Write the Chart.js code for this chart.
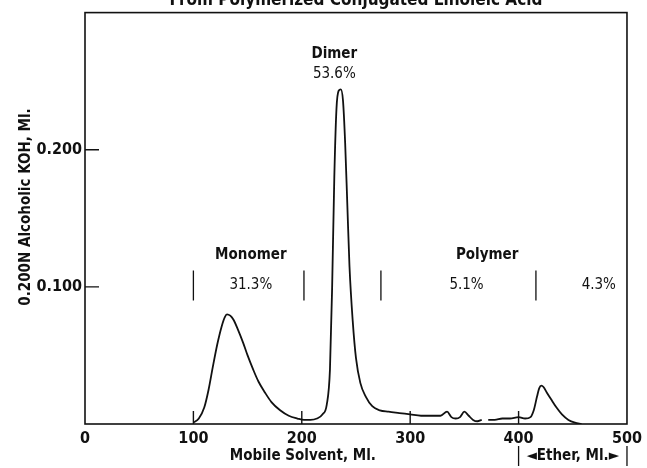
<!DOCTYPE html>
<html lang="en">
<head>
    <meta charset="UTF-8">
    <title>Chromatogram of Polymerized Acid</title>
    <style>
        body {
            margin: 0;
            background-color: #fff;
        }
        .chart-box {
            width: 647px;
            height: 468px;
        }
    </style>
    <script src="https://cdn.jsdelivr.net/npm/chart.js"></script>
</head>
<body>
    <div class="chart-box">
        <canvas id="elutionChart" width="647" height="468"></canvas>
    </div>
    <script>
        // elution curve: mobile solvent (ml) vs 0.200N alcoholic KOH (ml)
        const solventMl = [100, 105, 110, 114, 118, 122, 126, 129, 131, 134, 137, 141, 146, 150, 155, 160, 166, 172, 180, 188,
            196, 202, 208, 214, 219, 223, 226, 228, 230, 232, 234, 236, 238, 240, 242, 244, 247, 250, 254, 259,
            265, 272, 280, 290, 300, 310, 320, 328, 334, 338, 342, 346, 350, 354, 358, 362, 366, 369, 372, 378,
            385, 392, 400, 406, 411, 414, 417, 419, 421, 423, 426, 430, 435, 440, 446, 452, 458];
        const kohMl = [0.001, 0.004, 0.012, 0.025, 0.042, 0.058, 0.071, 0.078, 0.080, 0.079, 0.076, 0.069, 0.059, 0.050, 0.040, 0.031, 0.023, 0.016, 0.010, 0.006,
            0.004, 0.003, 0.003, 0.004, 0.007, 0.014, 0.040, 0.100, 0.180, 0.230, 0.243, 0.244, 0.236, 0.205, 0.160, 0.115, 0.075, 0.048, 0.030, 0.020,
            0.013, 0.010, 0.009, 0.008, 0.007, 0.006, 0.006, 0.006, 0.009, 0.005, 0.004, 0.005, 0.009, 0.006, 0.003, 0.002, 0.003, null, 0.003, 0.003,
            0.004, 0.004, 0.005, 0.004, 0.005, 0.010, 0.020, 0.026, 0.028, 0.027, 0.023, 0.018, 0.012, 0.007, 0.003, 0.001, 0.000];

        const xTicks = [0, 100, 200, 300, 400, 500];
        const yTicks = [0.1, 0.2];
        const yTickLabels = ['0.100', '0.200'];

        // fraction boundaries (ml) and labels
        const cutPoints = [100, 202, 273, 416];
        const fractionNames = ['Monomer', 'Polymer'];
        const fractionNameAt = [153, 371];
        const fractionPercents = ['31.3%', '5.1%', '4.3%'];
        const fractionPercentAt = [153, 352, 474];
        const dimerLabel = ['Dimer', '53.6%'];
        const dimerAt = 230;
        const etherRange = [400, 500];

        const FONT = '"Liberation Sans Narrow", "DejaVu Sans Condensed", sans-serif';

        const points = solventMl.map((x, i) => ({ x: x, y: kohMl[i] }));

        const decorPlugin = {
            id: 'decor',
            afterDraw(chart) {
                const ctx = chart.ctx;
                const a = chart.chartArea;
                const xs = chart.scales.x;
                const ys = chart.scales.y;
                ctx.save();
                ctx.strokeStyle = '#111';
                ctx.fillStyle = '#111';

                // frame
                ctx.lineWidth = 1.6;
                ctx.strokeRect(a.left, a.top, a.right - a.left, a.bottom - a.top);

                // inward tick marks
                ctx.lineWidth = 1.4;
                ctx.beginPath();
                xTicks.slice(1, -1).forEach(v => {
                    const px = xs.getPixelForValue(v);
                    ctx.moveTo(px, a.bottom);
                    ctx.lineTo(px, a.bottom - 13);
                });
                yTicks.forEach(v => {
                    const py = ys.getPixelForValue(v);
                    ctx.moveTo(a.left, py);
                    ctx.lineTo(a.left + 14, py);
                });
                ctx.stroke();

                // fraction cut marks
                ctx.lineWidth = 1.3;
                ctx.beginPath();
                cutPoints.forEach(v => {
                    const px = xs.getPixelForValue(v);
                    ctx.moveTo(px, ys.getPixelForValue(0.112));
                    ctx.lineTo(px, ys.getPixelForValue(0.090));
                });
                ctx.stroke();

                ctx.textAlign = 'center';
                ctx.textBaseline = 'middle';
                ctx.font = 'bold 15px ' + FONT;
                fractionNames.forEach((t, i) => {
                    ctx.fillText(t, xs.getPixelForValue(fractionNameAt[i]), ys.getPixelForValue(0.123));
                });
                ctx.font = '15px ' + FONT;
                fractionPercents.forEach((t, i) => {
                    ctx.fillText(t, xs.getPixelForValue(fractionPercentAt[i]), ys.getPixelForValue(0.101));
                });
                ctx.font = 'bold 15px ' + FONT;
                ctx.fillText(dimerLabel[0], xs.getPixelForValue(dimerAt), ys.getPixelForValue(0.270));
                ctx.font = '15px ' + FONT;
                ctx.fillText(dimerLabel[1], xs.getPixelForValue(dimerAt), ys.getPixelForValue(0.255));

                // axis titles
                ctx.font = 'bold 15px ' + FONT;
                ctx.fillText('Mobile Solvent, Ml.', xs.getPixelForValue(201), 456);

                const e0 = xs.getPixelForValue(etherRange[0]);
                const e1 = xs.getPixelForValue(etherRange[1]);
                ctx.fillText('\u25C4Ether, Ml.\u25BA', (e0 + e1) / 2, 456);
                ctx.beginPath();
                ctx.moveTo(e0, 446);
                ctx.lineTo(e0, 466);
                ctx.moveTo(e1, 446);
                ctx.lineTo(e1, 466);
                ctx.stroke();

                ctx.save();
                ctx.translate(26, 207);
                ctx.rotate(-Math.PI / 2);
                ctx.fillText('0.200N Alcoholic KOH, Ml.', 0, 0);
                ctx.restore();

                // title, clipped at the top edge as in the scan
                ctx.font = 'bold 17px ' + FONT;
                ctx.textBaseline = 'alphabetic';
                ctx.fillText('From Polymerized Conjugated Linoleic Acid', (a.left + a.right) / 2, 5);
                ctx.restore();
            }
        };

        new Chart(document.getElementById('elutionChart'), {
            type: 'line',
            data: {
                datasets: [{
                    data: points,
                    borderColor: '#111',
                    borderWidth: 1.8,
                    pointRadius: 0,
                    fill: false,
                    spanGaps: false,
                    cubicInterpolationMode: 'monotone'
                }]
            },
            options: {
                responsive: false,
                animation: false,
                layout: { padding: { top: 12, right: 16, left: 0, bottom: 0 } },
                plugins: {
                    legend: { display: false },
                    tooltip: { enabled: false }
                },
                scales: {
                    x: {
                        type: 'linear',
                        min: 0,
                        max: 500,
                        grid: { display: false, drawTicks: false },
                        border: { display: false },
                        afterBuildTicks: s => { s.ticks = xTicks.map(v => ({ value: v })); },
                        afterFit: s => { s.height = 44; },
                        ticks: {
                            color: '#111',
                            padding: 5,
                            font: { family: FONT, size: 16, weight: 'bold' }
                        }
                    },
                    y: {
                        min: 0,
                        max: 0.3,
                        grid: { display: false, drawTicks: false },
                        border: { display: false },
                        afterBuildTicks: s => { s.ticks = yTicks.map(v => ({ value: v })); },
                        afterFit: s => { s.width = 85; },
                        ticks: {
                            color: '#111',
                            padding: 3,
                            font: { family: FONT, size: 16, weight: 'bold' },
                            callback: v => yTickLabels[yTicks.indexOf(v)]
                        }
                    }
                }
            },
            plugins: [decorPlugin]
        });
    </script>
</body>
</html>
